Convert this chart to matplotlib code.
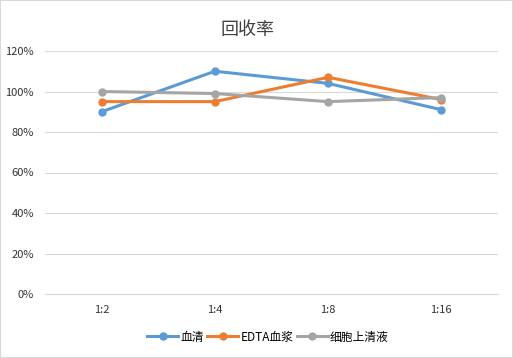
import matplotlib.pyplot as plt
from matplotlib.ticker import PercentFormatter
from matplotlib.patches import Rectangle

plt.rcParams['font.family'] = ['Noto Sans CJK SC', 'DejaVu Sans']

categories = ['1:2', '1:4', '1:8', '1:16']
serum = [0.90, 1.10, 1.04, 0.91]
edta_plasma = [0.95, 0.95, 1.07, 0.96]
cell_supernatant = [1.00, 0.99, 0.95, 0.97]
series_names = ['血清', 'EDTA血浆', '细胞上清液']
colors = ['#5B9BD5', '#ED7D31', '#A5A5A5']

fig = plt.figure(figsize=(5.13, 3.58), dpi=100)
ax = fig.add_axes([45 / 513, 1 - 294 / 358, 453 / 513, 243 / 358])

x = range(len(categories))
for vals, name, c in zip([serum, edta_plasma, cell_supernatant], series_names, colors):
    ax.plot(x, vals, color=c, linewidth=2.2, marker='o', markersize=5, label=name)

ax.set_xlim(-0.5, len(categories) - 0.5)
ax.set_ylim(0, 1.2)
ax.set_yticks([0, 0.2, 0.4, 0.6, 0.8, 1.0, 1.2])
ax.yaxis.set_major_formatter(PercentFormatter(1.0, decimals=0))
ax.set_xticks(list(x))
ax.set_xticklabels(categories)
ax.tick_params(length=0, labelsize=8, colors='#333333', pad=8)
ax.grid(axis='y', color='#D9D9D9', linewidth=0.8)
ax.set_axisbelow(True)
for s in ['top', 'right', 'left']:
    ax.spines[s].set_visible(False)
ax.spines['bottom'].set_color('#D9D9D9')

fig.text(248 / 513, 1 - 30 / 358, '回收率', ha='center', va='center', fontsize=13,
         color='#404040', fontweight='light')

fig.legend(loc='center', bbox_to_anchor=(268 / 513, 1 - 337 / 358), ncol=3, frameon=False,
           fontsize=8.5, handlelength=2.6, columnspacing=0.3, handletextpad=0.2,
           labelcolor='#000000')

fig.patches.append(Rectangle((0, 0), 1, 1, transform=fig.transFigure, fill=False,
                             edgecolor='#D9D9D9', linewidth=1.5))

fig.savefig('out.png', dpi=100)
